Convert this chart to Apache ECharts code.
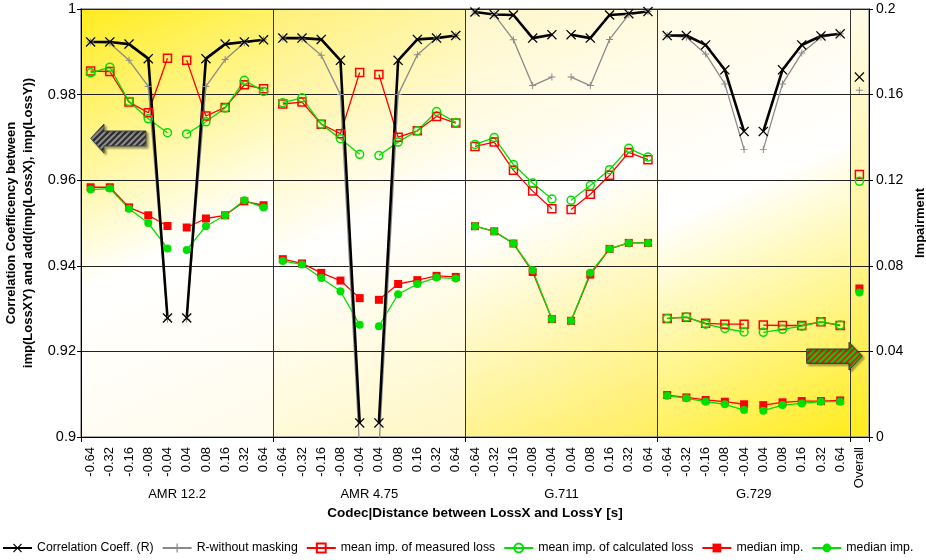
<!DOCTYPE html>
<html>
<head>
<meta charset="utf-8">
<script src="https://cdn.jsdelivr.net/npm/echarts@6/dist/echarts.min.js"></script>
<style>
html, body { margin: 0; padding: 0; background: #fff; }
#main { width: 926px; height: 560px; }
</style>
</head>
<body>
<div id="main"></div>
<script>
// 每个编解码器下的距离分类
var distances = ['-0.64', '-0.32', '-0.16', '-0.08', '-0.04', '0.04', '0.08', '0.16', '0.32', '0.64'];
var codecs = ['AMR 12.2', 'AMR 4.75', 'G.711', 'G.729'];

// 相关系数 (左轴)
var corrR = [
  0.9923, 0.9923, 0.9918, 0.9884, 0.9278, 0.9278, 0.9884, 0.9918, 0.9923, 0.9928,
  0.9932, 0.9932, 0.9929, 0.9880, 0.9033, 0.9033, 0.9880, 0.9929, 0.9932, 0.9938,
  0.9993, 0.9987, 0.9986, 0.9932, 0.9940, 0.9940, 0.9932, 0.9986, 0.9989, 0.9994,
  0.9938, 0.9938, 0.9916, 0.9858, 0.9714, 0.9714, 0.9858, 0.9916, 0.9937, 0.9942,
  0.9841
];
var rNoMasking = [
  0.9923, 0.9920, 0.9880, 0.9819, 0.9275, 0.9275, 0.9819, 0.9882, 0.9921, 0.9928,
  0.9932, 0.9930, 0.9892, 0.9800, 0.8970, 0.8970, 0.9800, 0.9893, 0.9932, 0.9938,
  0.9993, 0.9987, 0.9928, 0.9821, 0.9841, 0.9841, 0.9821, 0.9929, 0.9987, 0.9994,
  0.9938, 0.9934, 0.9895, 0.9825, 0.9672, 0.9672, 0.9825, 0.9897, 0.9934, 0.9942,
  0.9810
];
// 损伤 (右轴)
var meanMeasured = [
  0.1710, 0.1708, 0.1565, 0.1515, 0.1770, 0.1761, 0.1500, 0.1540, 0.1646, 0.1627,
  0.1556, 0.1565, 0.1462, 0.1417, 0.1703, 0.1694, 0.1401, 0.1431, 0.1498, 0.1467,
  0.1358, 0.1378, 0.1246, 0.1149, 0.1067, 0.1063, 0.1134, 0.1223, 0.1330, 0.1296,
  0.0554, 0.0559, 0.0531, 0.0527, 0.0527, 0.0523, 0.0521, 0.0521, 0.0538, 0.0521,
  0.1227
];
var meanCalculated = [
  0.1702, 0.1728, 0.1568, 0.1487, 0.1422, 0.1416, 0.1473, 0.1537, 0.1667, 0.1615,
  0.1562, 0.1585, 0.1462, 0.1394, 0.1321, 0.1315, 0.1378, 0.1431, 0.1521, 0.1470,
  0.1367, 0.1399, 0.1273, 0.1187, 0.1112, 0.1106, 0.1175, 0.1249, 0.1349, 0.1308,
  0.0554, 0.0561, 0.0527, 0.0507, 0.0491, 0.0489, 0.0503, 0.0518, 0.0538, 0.0523,
  0.1195
];
var medianMeasured = [
  0.1167, 0.1167, 0.1073, 0.1036, 0.0986, 0.0979, 0.1021, 0.1036, 0.1101, 0.1083,
  0.0831, 0.0811, 0.0767, 0.0731, 0.0649, 0.0641, 0.0715, 0.0733, 0.0753, 0.0748,
  0.0985, 0.0961, 0.0904, 0.0771, 0.0551, 0.0543, 0.0759, 0.0879, 0.0907, 0.0907,
  0.0196, 0.0185, 0.0173, 0.0165, 0.0153, 0.0149, 0.0162, 0.0168, 0.0168, 0.0171,
  0.0694
];
var medianCalculated = [
  0.1156, 0.1161, 0.1067, 0.1000, 0.0881, 0.0874, 0.0985, 0.1036, 0.1106, 0.1072,
  0.0823, 0.0806, 0.0743, 0.0681, 0.0524, 0.0518, 0.0667, 0.0715, 0.0745, 0.0741,
  0.0985, 0.0961, 0.0904, 0.0779, 0.0551, 0.0543, 0.0767, 0.0879, 0.0907, 0.0907,
  0.0193, 0.0181, 0.0165, 0.0153, 0.0126, 0.0123, 0.0149, 0.0157, 0.0165, 0.0165,
  0.0675
];

// x轴标签: 4组距离 + Overall
var xLabels = [];
codecs.forEach(function () { xLabels = xLabels.concat(distances); });
xLabels.push('Overall');

// 编解码器名称放在半格的类目轴上, 正好落在每组中间
var codecSlots = [];
for (var s = 0; s <= xLabels.length * 2; s++) codecSlots.push('');
codecs.forEach(function (c, k) { codecSlots[distances.length + k * distances.length * 2] = c; });

// 每组背景 (起止类目下标)
var panels = [[0, 9], [10, 19], [20, 29], [30, 39], [40, 40]];
var panelFills = [
  { x: 0, y: 0, x2: 1, y2: 1, stops: ['rgb(255,236,30)', '#ffffff', 'rgb(255,252,236)'], mid: 0.55 },
  { x: 0, y: 0, x2: 1, y2: 1, stops: ['rgb(255,240,120)', '#ffffff', 'rgb(255,247,195)'], mid: 0.5 },
  { x: 0, y: 0, x2: 1, y2: 1, stops: ['rgb(255,247,200)', '#ffffff', 'rgb(255,238,95)'], mid: 0.45 },
  { x: 0, y: 0, x2: 1, y2: 1, stops: ['rgb(255,251,228)', '#ffffff', 'rgb(255,236,30)'], mid: 0.42 },
  { x: 0, y: 0, x2: 0, y2: 1, stops: ['rgb(255,252,232)', 'rgb(255,245,160)', 'rgb(255,236,30)'], mid: 0.5 }
];

// 线段: -0.04 和 0.04 之间断开, 每组之间断开
var segments = [[0, 4], [5, 9], [10, 14], [15, 19], [20, 24], [25, 29], [30, 34], [35, 39], [40, 40]];

var symX = 'path://M0,0.9 L0.9,0 L5,4.1 L9.1,0 L10,0.9 L5.9,5 L10,9.1 L9.1,10 L5,5.9 L0.9,10 L0,9.1 L4.1,5 Z';
var symPlus = 'path://M4.3,0 H5.7 V4.3 H10 V5.7 H5.7 V10 H4.3 V5.7 H0 V4.3 H4.3 Z';

var RED = '#ff0000';
var GREEN = '#00e000';

// 画的顺序 (后画的在上面)
var metrics = [
  { name: 'mean imp. of measured loss', data: meanMeasured, y: 1, symbol: 'rect', size: 8,
    color: RED, fill: 'rgba(255,255,255,0)', width: 1.3 },
  { name: 'mean imp. of calculated loss', data: meanCalculated, y: 1, symbol: 'circle', size: 8,
    color: GREEN, fill: 'rgba(255,255,255,0)', width: 1.3 },
  { name: 'median imp. [measured]', data: medianMeasured, y: 1, symbol: 'rect', size: 8,
    color: RED, fill: RED, width: 1.3 },
  { name: 'median imp. [calculated]', data: medianCalculated, y: 1, symbol: 'circle', size: 8,
    color: GREEN, fill: GREEN, width: 1.3 },
  { name: 'R-without masking', data: rNoMasking, y: 0, symbol: symPlus, size: 7,
    color: '#8a8a8a', fill: '#8a8a8a', width: 1.3 },
  { name: 'Correlation Coeff. (R)', data: corrR, y: 0, symbol: symX, size: 10,
    color: '#000', fill: '#000', width: 2.6 }
];
var legendNames = ['Correlation Coeff. (R)', 'R-without masking', 'mean imp. of measured loss',
  'mean imp. of calculated loss', 'median imp. [measured]', 'median imp. [calculated]'];

var series = [];
series.push({
  type: 'custom',
  z: -1,
  silent: true,
  xAxisIndex: 0,
  yAxisIndex: 0,
  data: panels,
  renderItem: function (params, api) {
    var a = api.value(0), b = api.value(1);
    var bw = api.size([1, 0])[0];
    var pTop = api.coord([a, 1]);
    var pBot = api.coord([b, 0.9]);
    var x0 = pTop[0] - bw / 2, x1 = pBot[0] + bw / 2;
    var f = panelFills[params.dataIndex];
    return {
      type: 'rect',
      shape: { x: x0, y: pTop[1], width: x1 - x0, height: pBot[1] - pTop[1] },
      style: {
        fill: {
          type: 'linear', x: f.x, y: f.y, x2: f.x2, y2: f.y2,
          colorStops: [
            { offset: 0, color: f.stops[0] },
            { offset: f.mid, color: f.stops[1] },
            { offset: 1, color: f.stops[2] }
          ]
        }
      }
    };
  }
});

metrics.forEach(function (m) {
  segments.forEach(function (seg) {
    series.push({
      name: m.name,
      type: 'line',
      xAxisIndex: 0,
      yAxisIndex: m.y,
      symbol: m.symbol,
      symbolSize: m.size,
      showSymbol: true,
      showAllSymbol: true,
      connectNulls: false,
      itemStyle: { color: m.fill, borderColor: m.color, borderWidth: m.fill === m.color ? 0 : 1.5 },
      lineStyle: { color: m.color, width: m.width },
      emphasis: { disabled: true },
      data: m.data.map(function (v, i) { return (i >= seg[0] && i <= seg[1]) ? v : null; })
    });
  });
});

// 斜纹填充
function stripes(bg, fg) {
  var c = document.createElement('canvas');
  c.width = 6; c.height = 6;
  var ctx = c.getContext('2d');
  ctx.fillStyle = bg;
  ctx.fillRect(0, 0, 6, 6);
  ctx.strokeStyle = fg;
  ctx.lineWidth = 2.2;
  ctx.beginPath();
  ctx.moveTo(-1, 7); ctx.lineTo(7, -1);
  ctx.moveTo(-4, 4); ctx.lineTo(4, -4);
  ctx.moveTo(2, 10); ctx.lineTo(10, 2);
  ctx.stroke();
  return { image: c, repeat: 'repeat' };
}

var myChart = echarts.init(document.getElementById('main'), null, { renderer: 'canvas' });
var option = {
  animation: false,
  backgroundColor: '#fff',
  textStyle: { fontFamily: 'Liberation Sans, Arial, sans-serif', color: '#000' },
  grid: { left: 81, right: 57, top: 9, bottom: 123, containLabel: false, outerBoundsMode: 'none',
    show: true, borderColor: '#8c8c8c', borderWidth: 1.5, backgroundColor: 'transparent' },
  legend: {
    data: legendNames,
    left: 2,
    top: 542,
    padding: 0,
    width: 924,
    itemWidth: 29,
    itemHeight: 11,
    itemGap: 8,
    selectedMode: false,
    textStyle: { fontSize: 12.3, color: '#000' },
    formatter: function (name) { return name.replace(/ \[.*\]$/, ''); }
  },
  xAxis: [
    {
      type: 'category',
      data: xLabels,
      boundaryGap: true,
      axisLine: { lineStyle: { color: '#000', width: 1 } },
      axisTick: { show: true, length: 5, interval: function (i) { return i % 10 === 0; }, lineStyle: { color: '#000' } },
      axisLabel: { interval: 0, rotate: 90, fontSize: 13, color: '#000', margin: 10 },
      splitLine: { show: true, interval: function (i) { return i % 10 === 0; }, lineStyle: { color: '#333', width: 1 } },
      name: 'Codec|Distance between LossX and LossY [s]',
      nameLocation: 'middle',
      nameGap: 69,
      nameTextStyle: { fontWeight: 'bold', fontSize: 13.5, color: '#000' }
    },
    {
      type: 'category',
      data: codecSlots,
      boundaryGap: false,
      position: 'bottom',
      axisLine: { show: false },
      axisTick: { show: false },
      splitLine: { show: false },
      axisLabel: { interval: 0, fontSize: 13, color: '#000', margin: 51 }
    }
  ],
  yAxis: [
    {
      type: 'value',
      min: 0.9,
      max: 1,
      interval: 0.02,
      position: 'left',
      axisLine: { show: true, lineStyle: { color: '#000' } },
      axisTick: { show: true, length: 4, lineStyle: { color: '#000' } },
      axisLabel: { fontSize: 14.5, color: '#000', margin: 5 },
      splitLine: { show: true, lineStyle: { color: '#222', width: 1 } },
      name: 'Correlation Coefficency between\nimp(LossXY) and add(imp(LossX), imp(LossY))',
      nameLocation: 'middle',
      nameRotate: 90,
      nameGap: 38,
      nameTextStyle: { fontWeight: 'bold', fontSize: 13, lineHeight: 17, color: '#000' }
    },
    {
      type: 'value',
      min: 0,
      max: 0.2,
      interval: 0.04,
      position: 'right',
      axisLine: { show: true, lineStyle: { color: '#000' } },
      axisTick: { show: true, length: 4, lineStyle: { color: '#000' } },
      axisLabel: { fontSize: 14, color: '#000', margin: 7 },
      splitLine: { show: false },
      name: 'Impairment',
      nameLocation: 'middle',
      nameRotate: 90,
      nameGap: 41,
      nameTextStyle: { fontWeight: 'bold', fontSize: 13, color: '#000' }
    }
  ],
  graphic: [
    {
      type: 'polygon',
      z: 100,
      shape: { points: [[90.7, 138.3], [104, 124], [104, 131], [146, 131], [146, 146], [104, 146], [104, 153]] },
      style: { fill: stripes('#8f8f8f', '#2e2e2e'), stroke: '#444', lineWidth: 1,
        shadowColor: 'rgba(0,0,0,0.35)', shadowOffsetX: 2, shadowOffsetY: 2, shadowBlur: 2 }
    },
    {
      type: 'polygon',
      z: 100,
      shape: { points: [[806.7, 349], [849, 349], [849, 342.3], [862.3, 356], [849, 370], [849, 363.3], [806.7, 363.3]] },
      style: { fill: stripes('#ff1010', '#10c810'), stroke: '#333', lineWidth: 1,
        shadowColor: 'rgba(0,0,0,0.35)', shadowOffsetX: 2, shadowOffsetY: 2, shadowBlur: 2 }
    }
  ],
  series: series
};
myChart.setOption(option);
</script>
</body>
</html>
